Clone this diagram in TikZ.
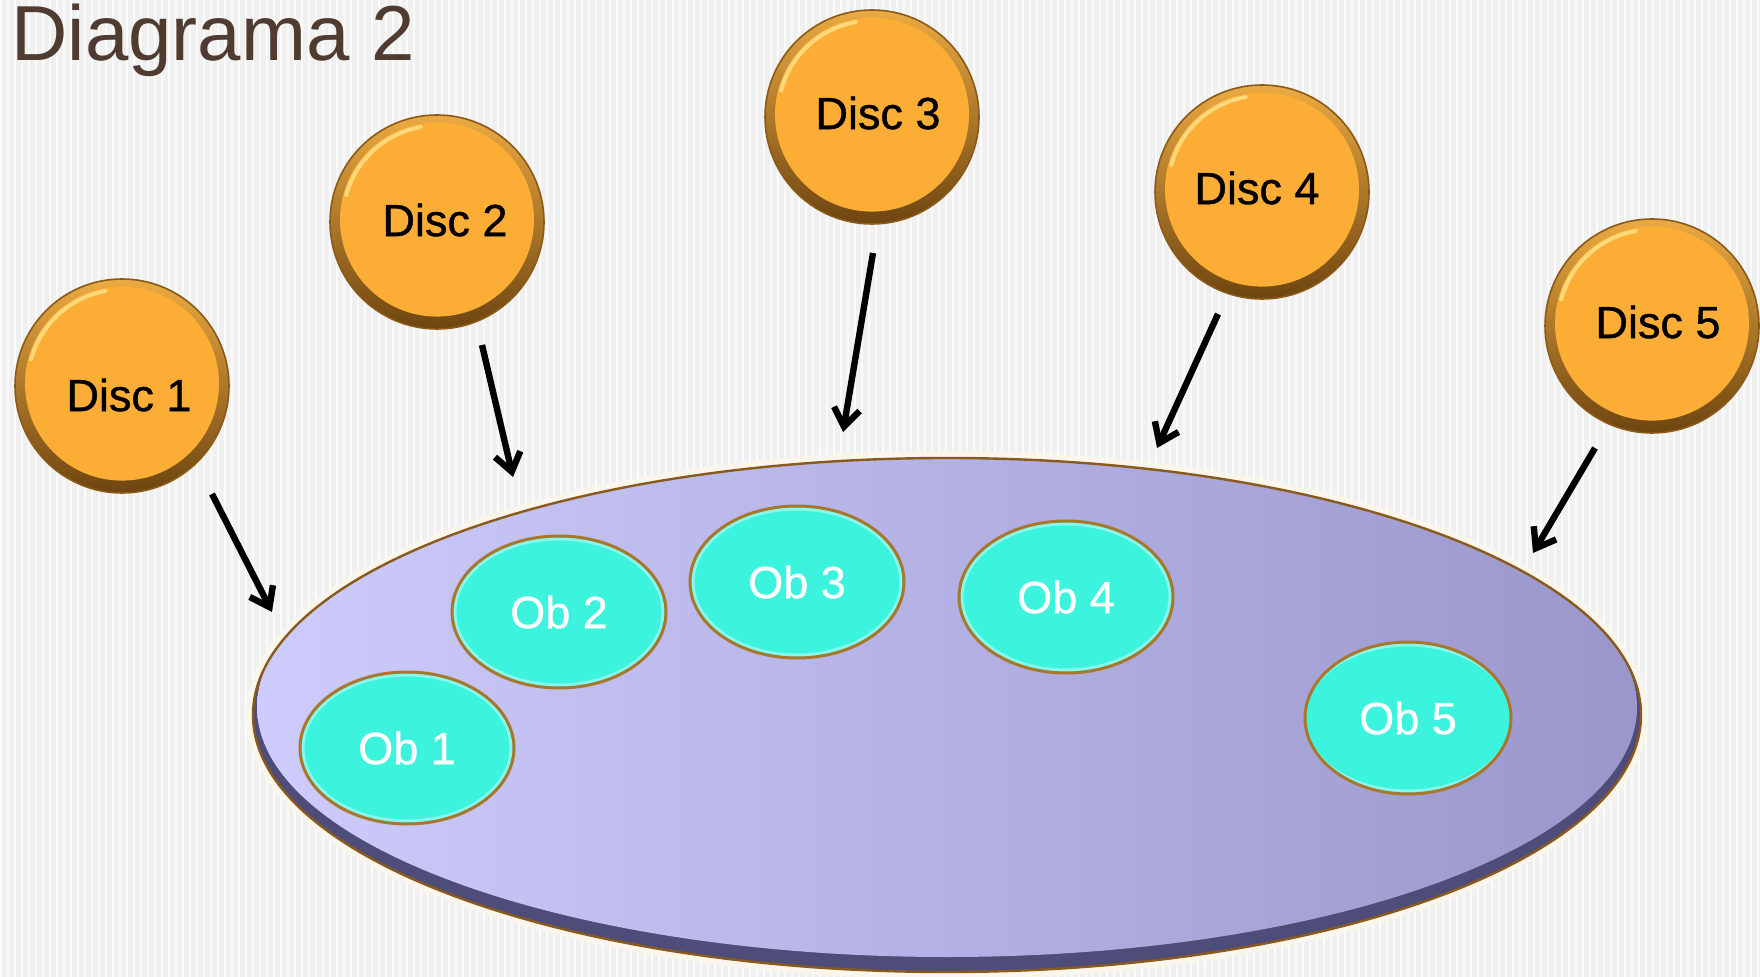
\documentclass[tikz,border=0pt]{standalone}
\usepackage{fontspec}
\setmainfont{Liberation Sans}
\newfontfamily\labelfont[FakeBold=0.9]{Liberation Sans}
\usetikzlibrary{shapes.geometric,arrows.meta}
\definecolor{bgcol}{HTML}{F0F0F0}
\definecolor{titlecol}{HTML}{4F3B2F}
\definecolor{discface}{HTML}{FCAD35}
\definecolor{discrimtop}{HTML}{EBAA42}
\definecolor{discrimbot}{HTML}{6E4510}
\definecolor{discedge}{HTML}{8C5A17}
\definecolor{discshine}{HTML}{FFE38A}
\definecolor{obface}{HTML}{3CF3DD}
\definecolor{obrim}{HTML}{86F9EC}
\definecolor{obedge}{HTML}{A8772C}
\definecolor{platleft}{HTML}{CDCCFC}
\definecolor{platright}{HTML}{9A96CB}
\definecolor{platrim}{HTML}{4E4C78}
\definecolor{platedge}{HTML}{8A5A1C}
\definecolor{platglow}{HTML}{FBF6EC}
\tikzset{
  disctext/.style={font=\labelfont\fontsize{22.5pt}{26pt}\selectfont, text=black, inner sep=0pt},
  discnode/.style={circle, minimum size=107pt, inner sep=0pt,
    draw=discedge, line width=0.8pt,
    top color=discrimtop, bottom color=discrimbot,
    path picture={
      \fill[discface] ([yshift=1.2pt]path picture bounding box.center) circle (97);
      \draw[discshine, line width=2pt, line cap=round, opacity=0.8]
        ([yshift=1.2pt]path picture bounding box.center) ++(195:94) arc[start angle=195, end angle=260, radius=94];
    }},
  obnode/.style={ellipse, minimum width=107pt, minimum height=76pt, inner sep=0pt,
    fill=obface, draw=obedge, line width=1.5pt,
    font=\labelfont\fontsize{22.5pt}{26pt}\selectfont, text=white,
    path picture={
      \draw[obrim, line width=1.5pt] (path picture bounding box.center)
        ellipse [x radius=104, y radius=73];
    }},
  platnode/.style={ellipse, minimum width=694pt, minimum height=257pt, inner sep=0pt,
    fill=platrim, draw=platedge, line width=1.2pt,
    path picture={
      \shade[left color=platleft, right color=platright]
        ([yshift=4pt]path picture bounding box.center) ellipse [x radius=690, y radius=250];
    }},
  arr/.style={draw=black, line width=3.2pt, -{Straight Barb[length=9pt,width=13pt]}},
  titlenode/.style={anchor=base west, inner sep=0pt, text=titlecol,
    font=\fontsize{39pt}{46pt}\selectfont}
}
\begin{document}
\begin{tikzpicture}[x=0.5pt,y=-0.5pt]
\useasboundingbox (0,0) rectangle (1760,977);
\fill[bgcol] (0,0) rectangle (1760,977);
\foreach \k in {0,7,...,1760} {\fill[white, opacity=0.75] (\k,0) rectangle ++(2,977);}

% title
\node[titlenode] (title) at (11,61) {Diagrama 2};

% platter
\fill[platglow] (947,715) ellipse [x radius=701, y radius=264];
\node[platnode] (plat) at (947,715) {};

% objects
\node[obnode] (o1) at (407,748) {Ob 1};
\node[obnode] (o2) at (559,612) {Ob 2};
\node[obnode] (o3) at (797,582) {Ob 3};
\node[obnode] (o4) at (1066,597) {Ob 4};
\node[obnode, minimum width=103pt] (o5) at (1408,718) {Ob 5};

% discs
\node[discnode] (d1) at (122,386) {};
\node[discnode] (d2) at (437,222) {};
\node[discnode] (d3) at (872,117) {};
\node[discnode] (d4) at (1262,192) {};
\node[discnode] (d5) at (1652,326) {};
\node[disctext] (t1) at (129,395) {Disc 1};
\node[disctext] (t2) at (445,220) {Disc 2};
\node[disctext] (t3) at (878,113) {Disc 3};
\node[disctext] (t4) at (1257,188) {Disc 4};
\node[disctext] (t5) at (1658,322) {Disc 5};

% arrow ends
\coordinate (s1) at (212,494); \coordinate (e1) at (272,612);
\coordinate (s2) at (482,345); \coordinate (e2) at (513,477);
\coordinate (s3) at (873,253); \coordinate (e3) at (843,432);
\coordinate (s4) at (1218,314); \coordinate (e4) at (1157,448);
\coordinate (s5) at (1595,448); \coordinate (e5) at (1533,553);

\draw[arr] (s1) -- (e1);
\draw[arr] (s2) -- (e2);
\draw[arr] (s3) -- (e3);
\draw[arr] (s4) -- (e4);
\draw[arr] (s5) -- (e5);
\end{tikzpicture}
\end{document}
